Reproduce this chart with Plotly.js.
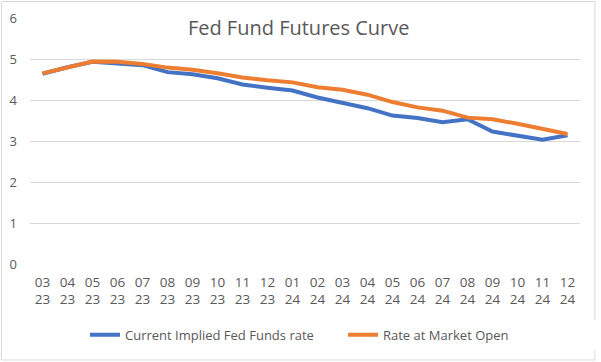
<!DOCTYPE html>
<html>
<head>
<meta charset="utf-8">
<script src="https://cdn.plot.ly/plotly-3.0.1.min.js"></script>
<style>html,body{margin:0;padding:0;background:#fff;}#chart{width:601px;height:362px;}</style>
</head>
<body>
<div id="chart"></div>
<script>
var months = ["03","04","05","06","07","08","09","10","11","12","01","02","03","04","05","06","07","08","09","10","11","12"];
var years  = ["23","23","23","23","23","23","23","23","23","23","24","24","24","24","24","24","24","24","24","24","24","24"];
var currentImplied = [4.64,4.80,4.93,4.90,4.85,4.68,4.63,4.53,4.38,4.30,4.23,4.06,3.92,3.80,3.62,3.56,3.46,3.53,3.23,3.13,3.03,3.14];
var marketOpen     = [4.65,4.80,4.94,4.93,4.88,4.79,4.74,4.65,4.55,4.48,4.43,4.31,4.25,4.13,3.95,3.82,3.74,3.57,3.53,3.42,3.30,3.17];
var seriesNames = ["Current Implied Fed Funds rate","Rate at Market Open"];

var cats = months.map(function(m,i){return m+"<br>"+years[i];});

var font = "'Open Sans', 'Noto Sans', sans-serif";
var data = [
  {x: cats, y: currentImplied, name: seriesNames[0], type: "scatter", mode: "lines",
   line: {color: "#4472C4", width: 4}},
  {x: cats, y: marketOpen, name: seriesNames[1], type: "scatter", mode: "lines",
   line: {color: "#ED7D31", width: 4}}
];
var layout = {
  width: 601, height: 362,
  margin: {l: 30, r: 21, t: 18, b: 98},
  paper_bgcolor: "#fff", plot_bgcolor: "#fff",
  font: {family: font, color: "#595959", size: 12},
  title: {text: "Fed Fund Futures Curve", font: {family: font, size: 20, color: "#595959"},
          x: 0.497, xanchor: "center", y: 0.922, yanchor: "middle", yref: "container"},
  xaxis: {type: "category", range: [-0.5, 21.5], showgrid: false, zeroline: false, showline: false,
          tickfont: {size: 13.5, color: "#595959"}, ticks: "", ticklabelstandoff: 8},
  yaxis: {range: [0, 6], dtick: 1, showgrid: true, gridcolor: "#D9D9D9", gridwidth: 1,
          zeroline: false, showline: false, ticks: "", ticklabelstandoff: 12,
          tickfont: {size: 13, color: "#595959"}},
  showlegend: true,
  legend: {orientation: "h", xref: "container", x: 0.1414, xanchor: "left",
           yref: "container", y: 0.075, yanchor: "middle",
           font: {size: 13, color: "#595959"}, tracegroupgap: 0, entrywidth: 213},
  shapes: [
    {type: "rect", xref: "paper", yref: "paper", x0: -0.052, x1: 1.027, y0: -0.39, y1: 1.067,
     line: {color: "#D9D9D9", width: 1}, fillcolor: "rgba(0,0,0,0)"}
  ]
};
Plotly.newPlot("chart", data, layout, {displayModeBar: false, staticPlot: true});
</script>
</body>
</html>
